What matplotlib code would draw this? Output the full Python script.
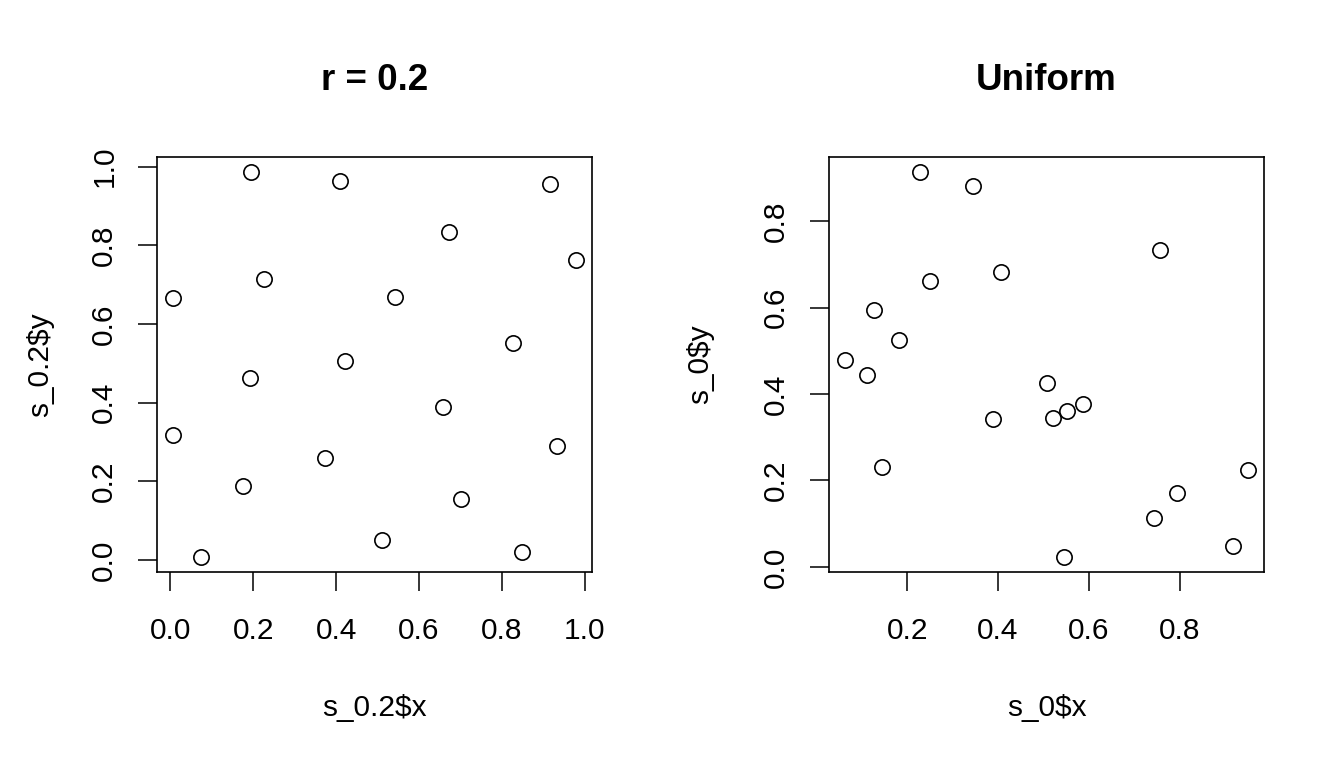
import numpy as np
import matplotlib
matplotlib.use("Agg")
import matplotlib.pyplot as plt

plt.rcParams['font.family'] = ['Liberation Sans', 'DejaVu Sans']

# r = 0.2 sample
x_02 = [0.194, 0.409, 0.917, 0.673, 0.227, 0.978, 0.007, 0.542, 0.827, 0.421,
        0.191, 0.658, 0.007, 0.934, 0.373, 0.174, 0.702, 0.511, 0.073, 0.849]
y_02 = [0.986, 0.963, 0.956, 0.834, 0.714, 0.762, 0.665, 0.670, 0.553, 0.507,
        0.464, 0.390, 0.319, 0.291, 0.260, 0.189, 0.155, 0.051, 0.008, 0.020]

# uniform sample
x_0 = [0.064, 0.112, 0.126, 0.145, 0.183, 0.229, 0.251, 0.346, 0.388, 0.406,
       0.507, 0.521, 0.552, 0.587, 0.545, 0.744, 0.757, 0.793, 0.918, 0.949]
y_0 = [0.479, 0.444, 0.595, 0.230, 0.525, 0.913, 0.661, 0.881, 0.342, 0.683,
       0.425, 0.344, 0.360, 0.376, 0.023, 0.114, 0.734, 0.172, 0.049, 0.223]

panels = [
    ("r = 0.2", x_02, y_02, "s_0.2$x", "s_0.2$y", [0, 0.2, 0.4, 0.6, 0.8, 1.0], [0, 0.2, 0.4, 0.6, 0.8, 1.0], 0.117, -0.27),
    ("Uniform", x_0, y_0, "s_0$x", "s_0$y", [0.2, 0.4, 0.6, 0.8], [0, 0.2, 0.4, 0.6, 0.8], 0.617, -0.298),
]


def rlim(v):
    lo, hi = min(v), max(v)
    d = (hi - lo) * 0.04
    return lo - d, hi + d


fig = plt.figure(figsize=(13.44, 7.68), dpi=100)
for title, xs, ys, xl, yl, xt, yt, left, ylab_x in panels:
    ax = fig.add_axes([left, 0.2548, 0.3232, 0.541])
    ax.plot(xs, ys, 'o', mfc='none', mec='black', ms=11, mew=1.2)
    ax.set_xlim(rlim(xs))
    ax.set_ylim(rlim(ys))
    ax.set_xticks(xt)
    ax.set_xticklabels(["%.1f" % t for t in xt])
    ax.set_yticks(yt)
    ax.set_yticklabels(["%.1f" % t for t in yt], rotation=90, va='center')
    ax.tick_params(axis='x', length=14, width=1.1, pad=18, labelsize=21.5)
    ax.tick_params(axis='y', length=14, width=1.1, pad=14, labelsize=21.5)
    for s in ax.spines.values():
        s.set_linewidth(1.2)
    ax.set_xlabel(xl, fontsize=21.5)
    ax.xaxis.set_label_coords(0.5, -0.3265)
    ax.xaxis.label.set_va('center')
    ax.set_ylabel(yl, fontsize=21.5)
    ax.yaxis.set_label_coords(ylab_x, 0.5)
    ax.yaxis.label.set_va('center')
    ax.text(0.5, 1.1846, title, transform=ax.transAxes, ha='center', va='center',
            fontsize=26.5, fontweight='bold')

fig.savefig("out.png", dpi=100)
